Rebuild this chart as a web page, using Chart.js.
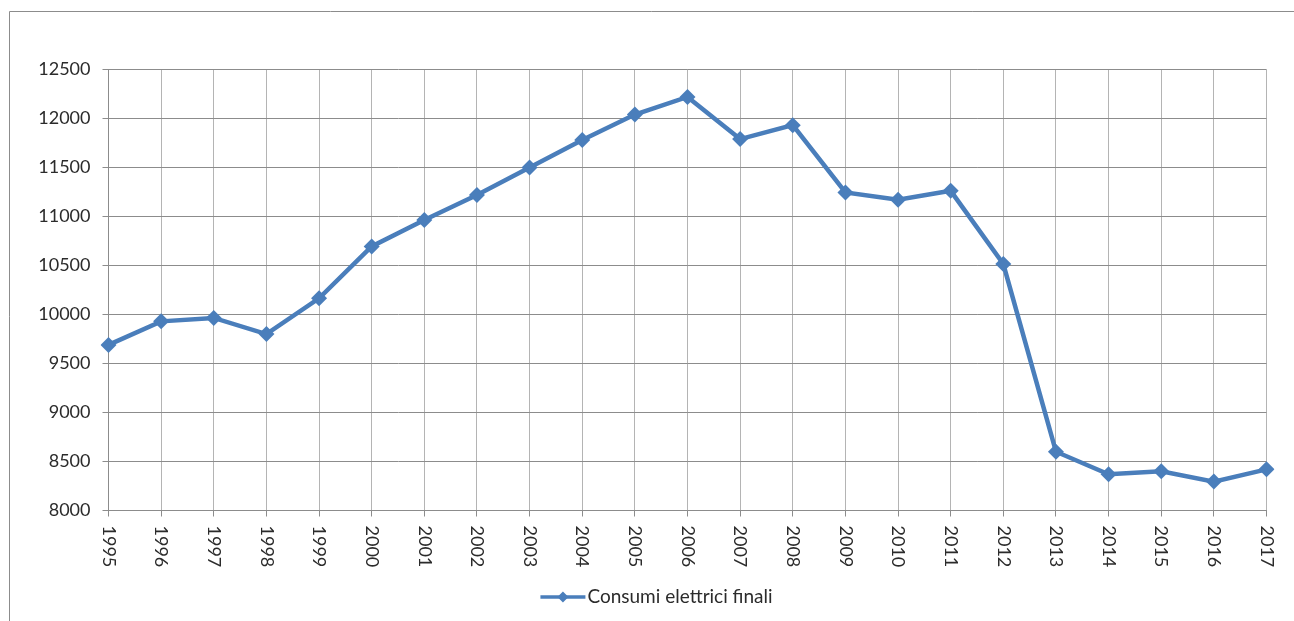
<!DOCTYPE html>
<html>
<head>
<meta charset="utf-8">
<script src="https://cdn.jsdelivr.net/npm/chart.js@4.4.1/dist/chart.umd.min.js"></script>
<style>
  html, body { margin: 0; padding: 0; background: #ffffff; }
  #c { display: block; }
</style>
</head>
<body>
<canvas id="c" width="1294" height="621"></canvas>
<script>
const years = ['1995','1996','1997','1998','1999','2000','2001','2002','2003','2004','2005','2006','2007','2008','2009','2010','2011','2012','2013','2014','2015','2016','2017'];
const consumi = [9690, 9930, 9965, 9800, 10165, 10695, 10965, 11220, 11500, 11780, 12040, 12220, 11790, 11932, 11245, 11170, 11262, 10515, 8600, 8370, 8400, 8295, 8420];
const seriesName = 'Consumi elettrici finali';
const yMin = 8000, yMax = 12500, yStep = 500;

const FONT = 'Lato, Carlito, Calibri, "Liberation Sans", sans-serif';
const TEXT_COLOR = '#2b2b2b';
const LINE_COLOR = '#4a7ebb';

const decor = {
  id: 'decor',
  afterDraw(chart) {
    const ctx = chart.ctx;
    const xs = chart.scales.x;
    ctx.save();
    // outer frame
    ctx.strokeStyle = '#8c8c8c';
    ctx.lineWidth = 1;
    ctx.beginPath();
    ctx.moveTo(9.5, 621);
    ctx.lineTo(9.5, 11.5);
    ctx.lineTo(1294, 11.5);
    ctx.stroke();
    // rotated x labels (top-to-bottom)
    ctx.fillStyle = TEXT_COLOR;
    ctx.font = '18px ' + FONT;
    ctx.textAlign = 'left';
    ctx.textBaseline = 'middle';
    years.forEach((lab, i) => {
      const x = xs.getPixelForValue(i);
      ctx.save();
      ctx.translate(x, xs.top + 15);
      ctx.rotate(Math.PI / 2);
      ctx.fillText(lab, 0, 0);
      ctx.restore();
    });
    // legend
    ctx.font = '19px ' + FONT;
    const tw = ctx.measureText(seriesName).width;
    const lineW = 45, gap = 2;
    const total = lineW + gap + tw;
    const start = 656.5 - total / 2;
    const ly = 597;
    ctx.strokeStyle = LINE_COLOR;
    ctx.lineWidth = 3.5;
    ctx.beginPath();
    ctx.moveTo(start, ly);
    ctx.lineTo(start + lineW, ly);
    ctx.stroke();
    const cx = start + lineW / 2;
    ctx.fillStyle = LINE_COLOR;
    ctx.beginPath();
    ctx.moveTo(cx, ly - 5.5);
    ctx.lineTo(cx + 5.5, ly);
    ctx.lineTo(cx, ly + 5.5);
    ctx.lineTo(cx - 5.5, ly);
    ctx.closePath();
    ctx.fill();
    ctx.fillStyle = TEXT_COLOR;
    ctx.textAlign = 'left';
    ctx.textBaseline = 'middle';
    ctx.fillText(seriesName, start + lineW + gap, ly);
    ctx.restore();
  }
};

new Chart(document.getElementById('c'), {
  type: 'line',
  data: {
    labels: years,
    datasets: [{
      label: seriesName,
      data: consumi,
      borderColor: LINE_COLOR,
      backgroundColor: LINE_COLOR,
      borderWidth: 4.5,
      pointStyle: 'rectRot',
      pointRadius: 8,
      pointBorderWidth: 0,
      pointBackgroundColor: LINE_COLOR,
      tension: 0,
      fill: false
    }]
  },
  options: {
    responsive: false,
    animation: false,
    devicePixelRatio: 1,
    layout: { padding: { left: 0, top: 69.5, right: 27.5, bottom: 0 } },
    plugins: {
      legend: { display: false },
      tooltip: { enabled: false }
    },
    scales: {
      x: {
        offset: false,
        grid: { color: '#b4b4b4', lineWidth: 1, drawTicks: true, tickLength: 6, tickColor: '#8c8c8c' },
        border: { color: '#8c8c8c' },
        ticks: { display: false },
        afterFit(s) { s.height = 110.5; }
      },
      y: {
        min: yMin,
        max: yMax,
        grid: { color: '#8c8c8c', lineWidth: 1, drawTicks: true, tickLength: 6 },
        border: { color: '#8c8c8c' },
        ticks: {
          stepSize: yStep,
          padding: 12,
          color: TEXT_COLOR,
          font: { family: FONT, size: 18 },
          callback: (v) => String(v)
        },
        afterFit(s) { s.width = 108.5; }
      }
    }
  },
  plugins: [decor]
});
</script>
</body>
</html>
